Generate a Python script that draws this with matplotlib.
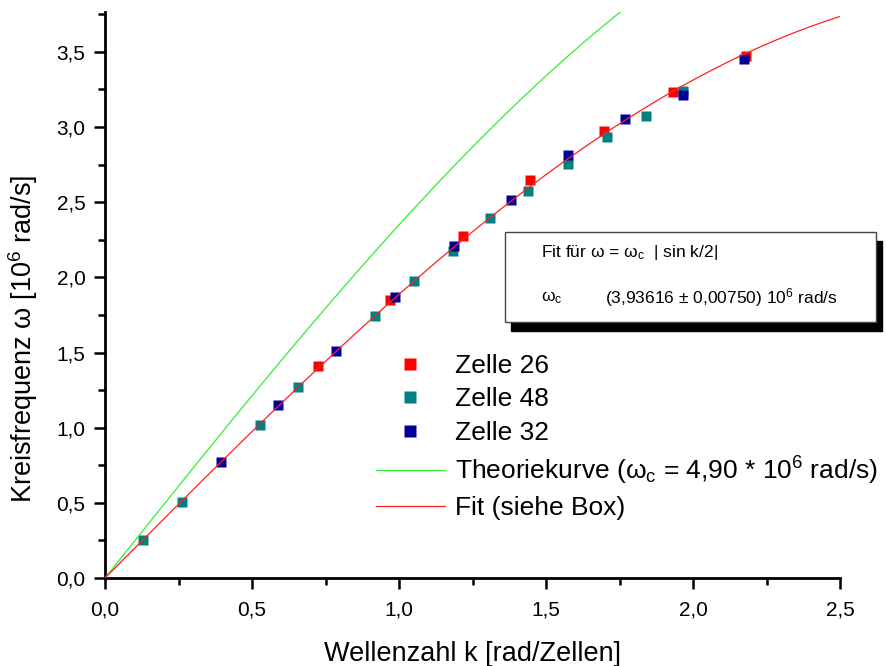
import numpy as np
import matplotlib
matplotlib.use('Agg')
import matplotlib.pyplot as plt
from matplotlib.patches import Rectangle
from matplotlib.ticker import MultipleLocator

plt.rcParams['font.family'] = ['Liberation Sans', 'DejaVu Sans']
plt.rcParams['mathtext.fontset'] = 'custom'
plt.rcParams['mathtext.rm'] = 'Liberation Sans'
plt.rcParams['mathtext.it'] = 'Liberation Sans:italic'

# measured dispersion points (k in rad/Zellen, omega in 10^6 rad/s)
k_26 = [0.723, 0.971, 1.217, 1.445, 1.696, 1.933, 2.180]
w_26 = [1.413, 1.850, 2.275, 2.650, 2.976, 3.236, 3.469]

k_48 = [0.129, 0.262, 0.528, 0.657, 0.920, 1.052, 1.185, 1.308, 1.440,
        1.574, 1.709, 1.841, 1.965]
w_48 = [0.253, 0.508, 1.018, 1.270, 1.743, 1.978, 2.176, 2.395, 2.577,
        2.754, 2.936, 3.074, 3.240]

k_32 = [0.394, 0.590, 0.785, 0.985, 1.186, 1.380, 1.575, 1.769, 1.966, 2.172]
w_32 = [0.770, 1.151, 1.513, 1.872, 2.211, 2.515, 2.814, 3.056, 3.214, 3.455]

wc_theorie = 4.90
wc_fit = 3.93616
wc_fit_err = 0.00750

x_ticks = [0.0, 0.5, 1.0, 1.5, 2.0, 2.5]
x_ticklabels = ['0,0', '0,5', '1,0', '1,5', '2,0', '2,5']
y_ticks = [0.0, 0.5, 1.0, 1.5, 2.0, 2.5, 3.0, 3.5]
y_ticklabels = ['0,0', '0,5', '1,0', '1,5', '2,0', '2,5', '3,0', '3,5']

fig = plt.figure(figsize=(8.86, 6.66), dpi=100)
ax = fig.add_axes([105/886, 88/666, 735/886, 566/666])

ax.plot(k_26, w_26, 's', color='#ff0000', ms=7.5, mec='none', label='Zelle 26', zorder=3)
ax.plot(k_48, w_48, 's', color='#008080', ms=7.5, mec='none', label='Zelle 48', zorder=3)
ax.plot(k_32, w_32, 's', color='#000099', ms=7.5, mec='none', label='Zelle 32', zorder=3)

k = np.linspace(0, 2.5, 400)
ax.plot(k, wc_theorie*np.abs(np.sin(k/2)), color='#33ee33', lw=0.9,
        label='Theoriekurve (ω$_\\mathrm{c}$ = 4,90 * 10$^6$ rad/s)', zorder=4)
ax.plot(k, wc_fit*np.abs(np.sin(k/2)), color='#ff2020', lw=0.9,
        label='Fit (siehe Box)', zorder=4)

ax.set_xlim(0, 2.5)
ax.set_ylim(0, 3.765)
ax.set_xticks(x_ticks)
ax.set_xticklabels(x_ticklabels)
ax.set_yticks(y_ticks)
ax.set_yticklabels(y_ticklabels)
ax.xaxis.set_minor_locator(MultipleLocator(0.25))
ax.yaxis.set_minor_locator(MultipleLocator(0.25))
ax.tick_params(which='major', length=8, width=1.8, labelsize=15)
ax.tick_params(axis='x', which='major', pad=8)
ax.tick_params(axis='y', which='major', pad=6)
ax.tick_params(which='minor', length=5, width=1.8)
for s in ['top', 'right']:
    ax.spines[s].set_visible(False)
for s in ['left', 'bottom']:
    ax.spines[s].set_linewidth(2)

ax.set_xlabel('Wellenzahl k [rad/Zellen]', fontsize=19.5, labelpad=16)
ax.set_ylabel('Kreisfrequenz ω [10$^6$ rad/s]', fontsize=19.5)
ax.yaxis.set_label_coords(-0.088, 0.422)

leg = ax.legend(loc='upper left', bbox_to_anchor=(376/886, 1 - 354/666),
                bbox_transform=fig.transFigure, frameon=False, fontsize=19,
                borderpad=0, borderaxespad=0, handlelength=2.6,
                handletextpad=0.38, labelspacing=0.36, markerscale=1.2)

# fit result box with drop shadow
bx0, by0, bw, bh = 505/886, 1 - 322/666, 371/886, 90/666
fig.patches.append(Rectangle((bx0 + 6/886, by0 - 9/666), bw, bh, transform=fig.transFigure,
                             facecolor='black', edgecolor='black', zorder=5))
fig.patches.append(Rectangle((bx0, by0), bw, bh, transform=fig.transFigure,
                             facecolor='white', edgecolor='#444444', lw=1, zorder=6))
fig.text(541/886, 1 - 252/666, 'Fit für ω = ω$_\\mathrm{c}$  | sin k/2|',
         fontsize=12.5, va='center', zorder=7)
fig.text(541/886, 1 - 298/666, 'ω$_\\mathrm{c}$', fontsize=12.5, va='center', zorder=7)
fig.text(605/886, 1 - 298/666,
         '(3,93616 ± 0,00750) 10$^6$ rad/s', fontsize=12.5, va='center', zorder=7)

fig.savefig('out.png', dpi=100)
